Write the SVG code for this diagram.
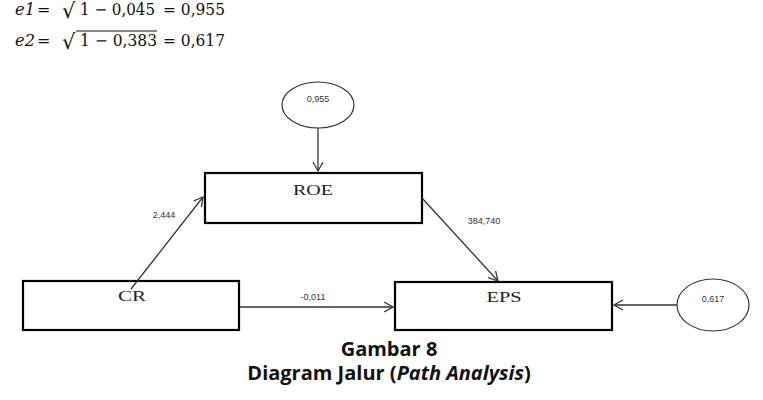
<svg xmlns="http://www.w3.org/2000/svg" width="763" height="400" viewBox="0 0 763 400">
<style>
.box{fill:#fff;stroke:#000;stroke-width:2.2}
.ell{fill:#fff;stroke:#333;stroke-width:1.2}
.ln{stroke:#333;stroke-width:1.3;fill:none;marker-end:url(#ah)}
.nm{font-family:"Liberation Serif",serif;font-size:15px;fill:#222;text-anchor:middle}
.num{font-family:"Liberation Sans",sans-serif;font-size:9px;fill:#333;text-anchor:middle}
.eq{font-family:"DejaVu Serif","Liberation Serif",serif;font-size:16px;fill:#111}
.sq{font-family:"DejaVu Sans","Liberation Serif",serif;font-size:21px;fill:#111}
.cap{font-family:"Open Sans","Liberation Sans",sans-serif;font-size:20px;font-weight:bold;fill:#111;text-anchor:middle}
</style>
<defs>
<marker id="ah" markerWidth="12" markerHeight="12" refX="10" refY="6" orient="auto" markerUnits="userSpaceOnUse">
<path d="M1,1 L10,6 L1,11" fill="none" stroke="#333" stroke-width="1.3"/>
</marker>
</defs>
<rect width="763" height="400" fill="#fff"/>
<g id="equations">
<text class="eq" x="15" y="15" font-style="italic" textLength="20" lengthAdjust="spacingAndGlyphs">e1</text>
<text class="eq" x="37" y="15">=</text>
<text class="sq" x="62" y="18">√</text>
<text class="eq" x="80" y="15" textLength="75" lengthAdjust="spacingAndGlyphs">1 − 0,045</text>
<text class="eq" x="163" y="15" textLength="62" lengthAdjust="spacingAndGlyphs">= 0,955</text>
<text class="eq" x="15" y="46" font-style="italic" textLength="20" lengthAdjust="spacingAndGlyphs">e2</text>
<text class="eq" x="37" y="46">=</text>
<text class="sq" x="62" y="49">√</text>
<line x1="76" y1="31" x2="157" y2="31" stroke="#111" stroke-width="1"/>
<text class="eq" x="80" y="46" textLength="77" lengthAdjust="spacingAndGlyphs">1 − 0,383</text>
<text class="eq" x="163" y="46" textLength="62" lengthAdjust="spacingAndGlyphs">= 0,617</text>
</g>
<g id="e1">
<ellipse class="ell" cx="318" cy="105" rx="36" ry="23"/>
<text class="num" x="318" y="102">0,955</text>
</g>
<g id="e2">
<ellipse class="ell" cx="713" cy="305" rx="36" ry="26"/>
<text class="num" x="713" y="302">0,617</text>
</g>
<g id="roe">
<rect class="box" x="205" y="173" width="217" height="50"/>
<text class="nm" x="313" y="195" textLength="40" lengthAdjust="spacingAndGlyphs">ROE</text>
</g>
<g id="cr">
<rect class="box" x="23" y="281" width="216" height="49"/>
<text class="nm" x="132" y="301" textLength="28" lengthAdjust="spacingAndGlyphs">CR</text>
</g>
<g id="eps">
<rect class="box" x="395" y="282" width="217" height="48"/>
<text class="nm" x="504" y="302" textLength="35" lengthAdjust="spacingAndGlyphs">EPS</text>
</g>
<g id="connectors">
<line class="ln" x1="318" y1="128" x2="318" y2="171"/>
<line class="ln" x1="131" y1="289" x2="203" y2="197"/>
<line class="ln" x1="422" y1="198" x2="498" y2="281"/>
<line class="ln" x1="240" y1="307" x2="393" y2="307"/>
<line class="ln" x1="677" y1="305" x2="614" y2="305"/>
<text class="num" x="164" y="218">2,444</text>
<text class="num" x="484" y="224">384,740</text>
<text class="num" x="313" y="300">-0,011</text>
</g>
<g id="caption">
<text class="cap" x="389" y="356">Gambar 8</text>
<text class="cap" x="389" y="380">Diagram Jalur (<tspan font-style="italic">Path Analysis</tspan>)</text>
</g>
</svg>
